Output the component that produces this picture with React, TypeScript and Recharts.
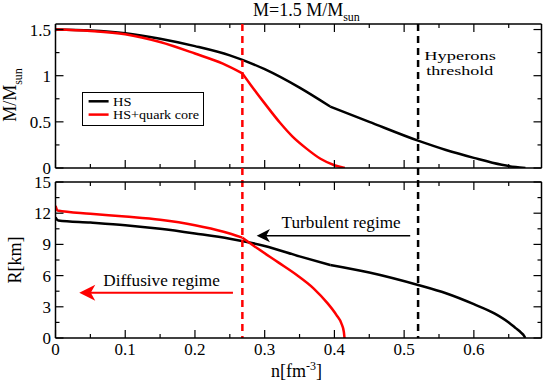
import React from 'react';
import { LineChart, Line, XAxis, YAxis, ReferenceLine, ReferenceDot, Legend } from 'recharts';

// ---------- data ----------
const xTicks = [0, 0.05, 0.1, 0.15, 0.2, 0.25, 0.3, 0.35, 0.4, 0.45, 0.5, 0.55, 0.6, 0.65];
const massTicks = [0, 0.25, 0.5, 0.75, 1, 1.25, 1.5];
const radiusTicks = [0, 1.5, 3, 4.5, 6, 7.5, 9, 10.5, 12, 13.5, 15];

const hsMassN = [0, 0.05, 0.1, 0.15, 0.2, 0.25, 0.3, 0.35, 0.394, 0.45, 0.52, 0.56, 0.6, 0.64, 0.66, 0.674];
const hsMassM = [1.5, 1.49, 1.46, 1.4, 1.32, 1.22, 1.07, 0.87, 0.665, 0.5, 0.296, 0.195, 0.11, 0.035, 0.01, 0];

const quarkMassN = [0, 0.05, 0.1, 0.15, 0.2, 0.24, 0.268, 0.28, 0.3, 0.322, 0.34, 0.36, 0.38, 0.4, 0.415];
const quarkMassM = [1.5, 1.485, 1.45, 1.365, 1.24, 1.13, 1.025, 0.9, 0.7, 0.49, 0.34, 0.21, 0.1, 0.03, 0];

const hsRadiusN = [0, 0.004, 0.05, 0.1, 0.15, 0.2, 0.25, 0.3, 0.35, 0.394, 0.45, 0.52, 0.56, 0.6, 0.63, 0.65, 0.66, 0.668, 0.672, 0.6736];
const hsRadiusR = [11.6, 11.3, 11.1, 10.85, 10.5, 10.05, 9.55, 8.85, 7.85, 7.02, 6.3, 5.1, 4.3, 3.25, 2.35, 1.5, 0.95, 0.5, 0.2, 0];

const quarkRadiusN = [0, 0.003, 0.05, 0.1, 0.15, 0.2, 0.241, 0.268, 0.29, 0.32, 0.346, 0.37, 0.39, 0.403, 0.41, 0.4135, 0.4145];
const quarkRadiusR = [12.7, 12.25, 11.95, 11.68, 11.37, 10.85, 10.22, 9.65, 8.6, 7.25, 6.06, 4.78, 3.35, 2.2, 1.4, 0.6, 0];

const quarkOnsetN = 0.268;
const hyperonThresholdN = 0.52;
const hsKinkN = 0.394;

// annotation anchors (data coordinates)
const hyperonLabel = { n: 0.529, m: 1.17 };
const turbulentLabel = { n: 0.3243, r: 10.58 };
const diffusiveLabel = { n: 0.0685, r: 5.0 };
const turbulentArrow = { from: 0.5087, to: 0.2885, r: 9.84 };
const diffusiveArrow = { from: 0.2545, to: 0.0341, r: 4.36 };

// ---------- layout ----------
const W = 545;
const H = 382;
const N_MAX = 0.697;
const M_MAX = 1.56;
const R_MAX = 15;
const PLOT_LEFT = 55.5;
const PLOT_RIGHT = 541.5;
const TOP_Y0 = 24;
const TOP_Y1 = 168;
const BOT_Y0 = 182;
const BOT_Y1 = 338;
const AX = 1; // thickness reserved for each axis
const FONT = "'Liberation Serif', 'Times New Roman', 'DejaVu Serif', serif";
const SERIF = { fontFamily: FONT };

type Pt = { n: number; v: number };
const toPts = (ns: number[], vs: number[]): Pt[] => ns.map((n, i) => ({ n, v: vs[i] }));
const upTo = (p: Pt[], k: number) => p.filter((d) => d.n <= k);
const fromK = (p: Pt[], k: number) => p.filter((d) => d.n >= k);

const hsMass = toPts(hsMassN, hsMassM);
const quarkMass = toPts(quarkMassN, quarkMassM);
const hsRadius = toPts(hsRadiusN, hsRadiusR);
const quarkRadius = toPts(quarkRadiusN, quarkRadiusR);

const isMajor = (v: number, step: number) => Math.abs(v / step - Math.round(v / step)) < 1e-6;

function makeTick(side: 'bottom' | 'top' | 'left' | 'right', step: number, showLabel: boolean, fmt: (v: number) => string = String) {
  return (props: any) => {
    const { x, y, payload } = props;
    const v = payload.value;
    const major = isMajor(v, step);
    const len = major ? 8 : 4;
    let x2 = x;
    let y2 = y;
    if (side === 'bottom') y2 = y - len;
    if (side === 'top') y2 = y + len;
    if (side === 'left') x2 = x + len;
    if (side === 'right') x2 = x - len;
    let label = null;
    if (showLabel && major) {
      if (side === 'bottom') {
        label = (
          <text x={x} y={y + 17} textAnchor="middle" fontSize={17} style={SERIF} fill="#000">
            {fmt(v)}
          </text>
        );
      } else if (side === 'left') {
        label = (
          <text x={x - 4.5} y={y + 6} textAnchor="end" fontSize={17} style={SERIF} fill="#000">
            {fmt(v)}
          </text>
        );
      }
    }
    return (
      <g>
        <line x1={x} y1={y} x2={x2} y2={y2} stroke="#000" strokeWidth={1.2} />
        {label}
      </g>
    );
  };
}

const frameLine = { stroke: '#000', strokeWidth: 1.5 };

const LegendBox = (props: any) => {
  const items = (props.payload || []).filter((p: any) => p.type !== 'none');
  const widths = [18.5, 86];
  return (
    <div style={{ width: 122, height: 34, border: '1px solid #000', boxSizing: 'border-box', background: '#fff' }}>
      <svg width={120} height={32} style={{ display: 'block' }}>
        {items.map((it: any, i: number) => {
          const cy = 8.3 + 13.3 * i;
          return (
            <g key={i}>
              <line x1={5.6} x2={25.6} y1={cy} y2={cy} stroke={it.color} strokeWidth={2.5} />
              <text
                x={30}
                y={cy + 4.3}
                fontSize={12}
                style={SERIF}
                fill="#000"
                textLength={widths[i] ?? undefined}
                lengthAdjust="spacingAndGlyphs"
              >
                {it.value}
              </text>
            </g>
          );
        })}
      </svg>
    </div>
  );
};

function axes(yMax: number, yTicks: number[], yStep: number, xLabels: boolean) {
  return [
    <XAxis
      key="xb"
      xAxisId="b"
      type="number"
      dataKey="n"
      domain={[0, N_MAX]}
      allowDataOverflow
      ticks={xTicks}
      interval={0}
      height={AX}
      tickSize={0}
      tickMargin={0}
      tickLine={false}
      axisLine={frameLine}
      tick={makeTick('bottom', 0.1, xLabels, (v) => (v === 0 ? '0' : v.toFixed(1)))}
    />,
    <XAxis
      key="xt"
      xAxisId="t"
      orientation="top"
      type="number"
      dataKey="n"
      domain={[0, N_MAX]}
      allowDataOverflow
      ticks={xTicks}
      interval={0}
      height={AX}
      tickSize={0}
      tickMargin={0}
      tickLine={false}
      axisLine={frameLine}
      tick={makeTick('top', 0.1, false)}
    />,
    <YAxis
      key="yl"
      yAxisId="l"
      type="number"
      domain={[0, yMax]}
      allowDataOverflow
      ticks={yTicks}
      interval={0}
      width={AX}
      tickSize={0}
      tickMargin={0}
      tickLine={false}
      axisLine={frameLine}
      tick={makeTick('left', yStep, true)}
    />,
    <YAxis
      key="yr"
      yAxisId="r"
      orientation="right"
      type="number"
      domain={[0, yMax]}
      allowDataOverflow
      ticks={yTicks}
      interval={0}
      width={AX}
      tickSize={0}
      tickMargin={0}
      tickLine={false}
      axisLine={frameLine}
      tick={makeTick('right', yStep, false)}
    />,
  ];
}

const lineCommon = {
  xAxisId: 'b',
  yAxisId: 'l',
  dataKey: 'v',
  type: 'monotone' as const,
  dot: false,
  activeDot: false,
  strokeWidth: 2.5,
  isAnimationActive: false,
};

const arrowHead = (size: number, color: string) => (p: any) => {
  const { cx, cy } = p;
  const h = size / 2;
  return (
    <path
      d={`M${cx},${cy} L${cx + size},${cy - h} L${cx + size * 0.72},${cy} L${cx + size},${cy + h} Z`}
      fill={color}
    />
  );
};

const marginFor = (y0: number, y1: number) => ({
  top: y0 - AX,
  bottom: H - y1 - AX,
  left: PLOT_LEFT - AX,
  right: W - PLOT_RIGHT - AX,
});

export default function App() {
  // extent of vertical threshold lines: from top of upper frame to bottom of lower frame
  const lineTopR = (R_MAX * (BOT_Y1 - TOP_Y0)) / (BOT_Y1 - BOT_Y0);
  return (
    <div style={{ position: 'absolute', left: 0, top: 0, width: W, height: H, background: '#fff', fontFamily: FONT }}>
      <div style={{ position: 'absolute', left: 0, top: 0 }}>
        <LineChart width={W} height={H} margin={marginFor(TOP_Y0, TOP_Y1)}>
          {axes(M_MAX, massTicks, 0.5, false)}
          <Line {...lineCommon} data={upTo(hsMass, hsKinkN)} name="HS" stroke="#000" />
          <Line {...lineCommon} data={fromK(hsMass, hsKinkN)} name="HS " stroke="#000" legendType="none" />
          <Line {...lineCommon} data={upTo(quarkMass, quarkOnsetN)} name="HS+quark core" stroke="#ff0000" />
          <Line {...lineCommon} data={fromK(quarkMass, quarkOnsetN)} name="HS+quark core " stroke="#ff0000" legendType="none" />
          <ReferenceDot
            xAxisId="b"
            yAxisId="l"
            x={hyperonLabel.n}
            y={hyperonLabel.m}
            ifOverflow="visible"
            shape={(p: any) => (
              <g>
                <text x={p.cx} y={p.cy} fontSize={13.5} style={SERIF} fill="#000" textLength={71.5} lengthAdjust="spacingAndGlyphs">
                  Hyperons
                </text>
                <text x={p.cx + 2} y={p.cy + 15} fontSize={13.5} style={SERIF} fill="#000" textLength={67} lengthAdjust="spacingAndGlyphs">
                  threshold
                </text>
              </g>
            )}
          />
          <Legend
            layout="horizontal"
            verticalAlign="middle"
            align="center"
            content={<LegendBox />}
            wrapperStyle={{ left: 81.7, top: 91.7, width: 122, height: 34 }}
          />
        </LineChart>
      </div>
      <div style={{ position: 'absolute', left: 0, top: 0 }}>
        <LineChart width={W} height={H} margin={marginFor(BOT_Y0, BOT_Y1)}>
          {axes(R_MAX, radiusTicks, 3, true)}
          <Line {...lineCommon} data={upTo(hsRadius, hsKinkN)} name="HS" stroke="#000" />
          <Line {...lineCommon} data={fromK(hsRadius, hsKinkN)} name="HS " stroke="#000" />
          <Line {...lineCommon} data={upTo(quarkRadius, quarkOnsetN)} name="HS+quark core" stroke="#ff0000" />
          <Line {...lineCommon} data={fromK(quarkRadius, quarkOnsetN)} name="HS+quark core " stroke="#ff0000" />
          <ReferenceLine
            xAxisId="b"
            yAxisId="l"
            segment={[
              { x: quarkOnsetN, y: lineTopR },
              { x: quarkOnsetN, y: 0 },
            ]}
            ifOverflow="visible"
            stroke="#ff0000"
            strokeWidth={2.5}
            strokeDasharray="7 5"
          />
          <ReferenceLine
            xAxisId="b"
            yAxisId="l"
            segment={[
              { x: hyperonThresholdN, y: lineTopR },
              { x: hyperonThresholdN, y: 0 },
            ]}
            ifOverflow="visible"
            stroke="#000"
            strokeWidth={2.5}
            strokeDasharray="7 5"
          />
          <ReferenceLine
            xAxisId="b"
            yAxisId="l"
            segment={[
              { x: turbulentArrow.from, y: turbulentArrow.r },
              { x: turbulentArrow.to + 0.012, y: turbulentArrow.r },
            ]}
            stroke="#000"
            strokeWidth={1.5}
          />
          <ReferenceDot xAxisId="b" yAxisId="l" x={turbulentArrow.to} y={turbulentArrow.r} shape={arrowHead(13.3, '#000')} />
          <ReferenceLine
            xAxisId="b"
            yAxisId="l"
            segment={[
              { x: diffusiveArrow.from, y: diffusiveArrow.r },
              { x: diffusiveArrow.to + 0.015, y: diffusiveArrow.r },
            ]}
            stroke="#ff0000"
            strokeWidth={2}
          />
          <ReferenceDot xAxisId="b" yAxisId="l" x={diffusiveArrow.to} y={diffusiveArrow.r} shape={arrowHead(16, '#ff0000')} />
          <ReferenceDot
            xAxisId="b"
            yAxisId="l"
            x={turbulentLabel.n}
            y={turbulentLabel.r}
            shape={(p: any) => (
              <text x={p.cx} y={p.cy} fontSize={16} style={SERIF} fill="#000" textLength={119} lengthAdjust="spacingAndGlyphs">
                Turbulent regime
              </text>
            )}
          />
          <ReferenceDot
            xAxisId="b"
            yAxisId="l"
            x={diffusiveLabel.n}
            y={diffusiveLabel.r}
            shape={(p: any) => (
              <text x={p.cx} y={p.cy} fontSize={16} style={SERIF} fill="#000" textLength={116.5} lengthAdjust="spacingAndGlyphs">
                Diffusive regime
              </text>
            )}
          />
        </LineChart>
      </div>
      <svg width={W} height={H} style={{ position: 'absolute', left: 0, top: 0, pointerEvents: 'none', fontFamily: FONT }}>
        <text x={253} y={16} fontSize={18} fill="#000" style={SERIF}>
          M=1.5 M/M
          <tspan dy={5} fontSize={12}>
            sun
          </tspan>
        </text>
        <text transform="rotate(-90)" x={-95} y={15.5} textAnchor="middle" fontSize={18} fill="#000" style={SERIF}>
          M/M
          <tspan dy={6} fontSize={12}>
            sun
          </tspan>
        </text>
        <text transform="rotate(-90)" x={-260} y={21} textAnchor="middle" fontSize={18} fill="#000" style={SERIF}>
          R[km]
        </text>
        <text x={271} y={377} fontSize={18} fill="#000" style={SERIF}>
          n[fm
          <tspan dy={-7} fontSize={12}>
            -3
          </tspan>
          <tspan dy={7} fontSize={18}>
            ]
          </tspan>
        </text>
      </svg>
    </div>
  );
}
